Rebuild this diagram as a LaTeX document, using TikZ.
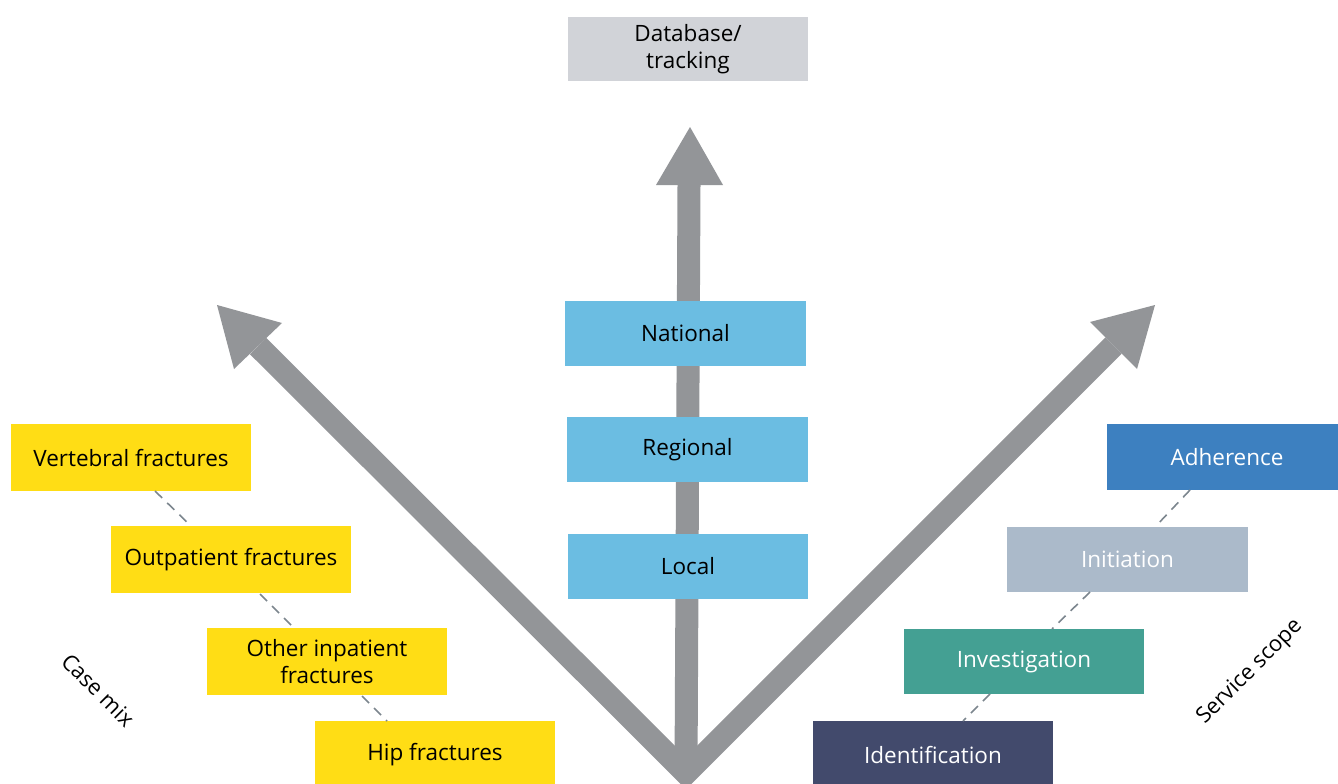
\documentclass[tikz,border=0pt]{standalone}
\usepackage{fontspec}
\setmainfont{Open Sans}
\definecolor{arrowgray}{HTML}{939598}
\definecolor{dbgray}{HTML}{D1D3D8}
\definecolor{lvlblue}{HTML}{6BBDE2}
\definecolor{caseyellow}{HTML}{FFDD15}
\definecolor{adhblue}{HTML}{3D80C0}
\definecolor{initgray}{HTML}{ABBACA}
\definecolor{invgreen}{HTML}{44A093}
\definecolor{idnavy}{HTML}{424A6C}
\definecolor{dashgray}{HTML}{7C868E}
\tikzset{
  box/.style={minimum width=240pt, minimum height=65pt, inner sep=0pt, align=center, font=\fontsize{22.5}{27}\selectfont},
  dbbox/.style={box, fill=dbgray, text=black},
  lvlbox/.style={box, fill=lvlblue, text=black},
  casebox/.style={box, fill=caseyellow, text=black},
  scopebox/.style={box, text=white},
  shaft/.style={line width=23pt, draw=arrowgray, line join=miter},
  head/.style={fill=arrowgray},
  link/.style={draw=dashgray, line width=1.6pt, dash pattern=on 10pt off 7pt},
  axislabel/.style={font=\fontsize{22}{24}\selectfont, text=black}
}
\begin{document}
\begin{tikzpicture}[x=1pt,y=-1pt]
\useasboundingbox (0,0) rectangle (1338,784);
\clip (0,0) rectangle (1338,784);
% arrow geometry
\coordinate (V) at (686,773);
\coordinate (Lbase) at (258,346);
\coordinate (Rbase) at (1113.5,345.5);
\coordinate (Ubase) at (689,185);
\coordinate (Ltip) at (217,305);
\coordinate (Lc1) at (282,323);
\coordinate (Lc2) at (234,369);
\coordinate (Rtip) at (1155,305);
\coordinate (Rc1) at (1090,322);
\coordinate (Rc2) at (1137,369);
\coordinate (Utip) at (690,127);
\coordinate (Uc1) at (656,185);
\coordinate (Uc2) at (723,185);
\draw[shaft] (Lbase) -- (V) -- (Rbase);
\draw[shaft] (V) -- (Ubase);
\fill[head] (Ltip) -- (Lc1) -- (Lc2) -- cycle;
\fill[head] (Rtip) -- (Rc1) -- (Rc2) -- cycle;
\fill[head] (Utip) -- (Uc1) -- (Uc2) -- cycle;
% top
\node[dbbox, minimum height=64pt] (db) at (688,49) {Database/\\tracking};
% levels
\node[lvlbox, minimum width=241pt] (nat) at (685.5,333.5) {National};
\node[lvlbox, minimum width=241pt] (reg) at (687.5,449.5) {Regional};
\node[lvlbox] (loc) at (688,566.5) {Local};
% case mix
\node[casebox, minimum height=67pt] (vert) at (131,457.5) {Vertebral fractures};
\node[casebox, minimum height=67pt] (outp) at (231,559.5) {Outpatient fractures};
\node[casebox, minimum height=67pt] (other) at (327,661.5) {Other inpatient\\fractures};
\node[casebox, minimum height=68pt] (hip) at (435,755) {Hip fractures};
% service scope
\node[scopebox, fill=adhblue, minimum height=66pt] (adh) at (1227,457) {Adherence};
\node[scopebox, fill=initgray, minimum width=241pt] (init) at (1127.5,559.5) {Initiation};
\node[scopebox, fill=invgreen] (inv) at (1024,661.5) {Investigation};
\node[scopebox, fill=idnavy, minimum height=68pt] (ident) at (933,755) {Identification};
% dashed links
\coordinate (d1a) at (155,491); \coordinate (d1b) at (191,526);
\coordinate (d2a) at (260,594); \coordinate (d2b) at (294,628);
\coordinate (d3a) at (362,696); \coordinate (d3b) at (387,721);
\coordinate (e1a) at (1190,490); \coordinate (e1b) at (1155,527);
\coordinate (e2a) at (1090,592); \coordinate (e2b) at (1052,629);
\coordinate (e3a) at (990,694); \coordinate (e3b) at (963,721);
\draw[link] (d1a) -- (d1b);
\draw[link] (d2a) -- (d2b);
\draw[link] (d3a) -- (d3b);
\draw[link] (e1a) -- (e1b);
\draw[link] (e2a) -- (e2b);
\draw[link] (e3a) -- (e3b);
% axis labels
\node[axislabel, rotate=-45] (casemix) at (98,690) {Case mix};
\node[axislabel, rotate=45] (scope) at (1250,672) {Service scope};
\end{tikzpicture}
\end{document}
